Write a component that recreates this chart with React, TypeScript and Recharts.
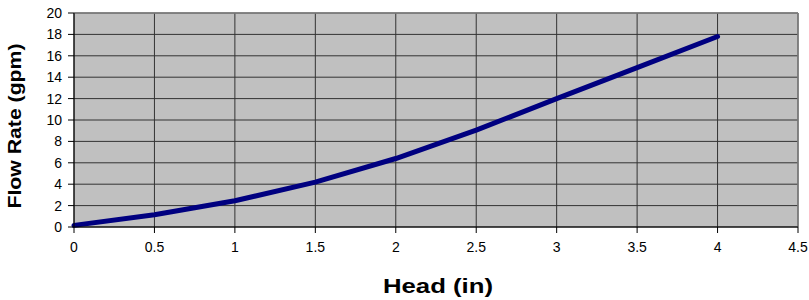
import { LineChart, Line, XAxis, YAxis, CartesianGrid, ReferenceLine } from 'recharts'

const headIn = [0, 0.5, 0.75, 1, 1.5, 2, 2.5, 3, 3.5, 4]
const flowGpm = [0.15, 1.15, 1.8, 2.45, 4.2, 6.4, 9.05, 12.0, 14.9, 17.8]
const xTicks = [0, 0.5, 1, 1.5, 2, 2.5, 3, 3.5, 4, 4.5]
const yTicks = [0, 2, 4, 6, 8, 10, 12, 14, 16, 18, 20]

const data = headIn.map((h, i) => ({ head: h, flow: flowGpm[i] }))

const FONT = '"Liberation Sans", Arial, sans-serif'

/** Bold x axis title, stretched a bit like the original */
function XTitle(props: any) {
  const { viewBox } = props
  const cx = viewBox.x + viewBox.width / 2 + 2
  return (
    <text
      x={cx}
      y={viewBox.y + 66}
      textAnchor="middle"
      fontFamily={FONT}
      fontWeight="bold"
      fontSize={21}
      fill="#000"
      textLength={110}
      lengthAdjust="spacingAndGlyphs"
    >
      Head (in)
    </text>
  )
}

/** Rotated y axis title */
function YTitle(props: any) {
  const { viewBox } = props
  const x = viewBox.x + 21
  const y = viewBox.y + viewBox.height / 2 + 6
  return (
    <text
      x={x}
      y={y}
      transform={`rotate(-90, ${x}, ${y})`}
      textAnchor="middle"
      fontFamily={FONT}
      fontWeight="bold"
      fontSize={18}
      fill="#000"
      textLength={165}
      lengthAdjust="spacingAndGlyphs"
    >
      Flow Rate (gpm)
    </text>
  )
}

const tickStyle = { fontSize: 14, fill: '#000', fontFamily: FONT }

export default function App() {
  return (
    <div style={{ position: 'absolute', left: 0, top: 0, background: '#fff' }}>
      <LineChart
        width={809}
        height={300}
        data={data}
        margin={{ top: 13, right: 11, bottom: 0, left: 0 }}
      >
        <CartesianGrid fill="#C0C0C0" stroke="#333" strokeOpacity={1} />
        <XAxis
          dataKey="head"
          type="number"
          domain={[0, 4.5]}
          ticks={xTicks}
          interval={0}
          height={73}
          tickSize={6}
          tickMargin={9}
          stroke="#000"
          tick={tickStyle}
          label={<XTitle />}
        />
        <YAxis
          type="number"
          domain={[0, 20]}
          ticks={yTicks}
          interval={0}
          width={74}
          tickSize={6}
          tickMargin={6}
          stroke="#000"
          tick={tickStyle}
          label={<YTitle />}
        />
        <ReferenceLine y={20} stroke="#808080" strokeWidth={1.5} />
        <ReferenceLine x={4.5} stroke="#808080" strokeWidth={1.5} />
        <Line
          type="linear"
          dataKey="flow"
          stroke="#000080"
          strokeWidth={5}
          strokeLinecap="round"
          strokeLinejoin="round"
          dot={false}
          activeDot={false}
          isAnimationActive={false}
        />
      </LineChart>
    </div>
  )
}
